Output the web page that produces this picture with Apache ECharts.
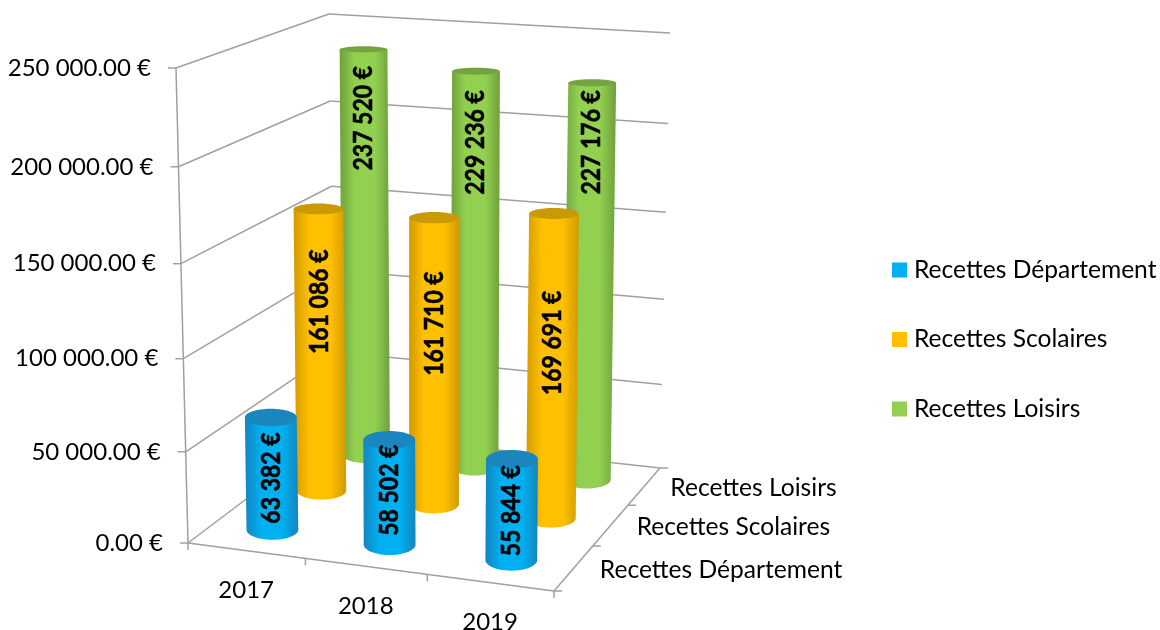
<!DOCTYPE html>
<html><head><meta charset="utf-8">
<script src="https://cdn.jsdelivr.net/npm/echarts@6/dist/echarts.min.js"></script>
<style>html,body{margin:0;padding:0;background:#fff}#c{width:1160px;height:630px}</style>
</head><body><div id="c"></div>
<script>
// ---- data ----
const years = ['2017', '2018', '2019'];
const seriesNames = ['Recettes Département', 'Recettes Scolaires', 'Recettes Loisirs'];
const recettesDepartement = [63382, 58502, 55844];
const recettesScolaires = [161086, 161710, 169691];
const recettesLoisirs = [237520, 229236, 227176];
const valueTicks = [0, 50000, 100000, 150000, 200000, 250000];
const valueTickLabels = ['0.00 €', '50 000.00 €', '100 000.00 €', '150 000.00 €', '200 000.00 €', '250 000.00 €'];

// ---- layout / style ----
const FONT = 'Lato, "Noto Sans", sans-serif';
const floorQuad = [[188,543],[554,591],[660,468],[335,432]];
const topQuad   = [[176,68],[560,101],[670,33],[329,14]];
const labelAlong = [[.46,.52,.49],[.67,.63,.575],[.83,.82,.85]];
const looks = [
  {base:'#00b0f0', edge:'#1584be', cap:'#1a86bd'},
  {base:'#ffc000', edge:'#d29a00', cap:'#c99a06'},
  {base:'#92d050', edge:'#6ea03c', cap:'#74a43f'}
];

function quadMap(q){
  const [p0,p1,p2,p3]=q;
  const dx1=p1[0]-p2[0],dx2=p3[0]-p2[0],sx=p0[0]-p1[0]+p2[0]-p3[0];
  const dy1=p1[1]-p2[1],dy2=p3[1]-p2[1],sy=p0[1]-p1[1]+p2[1]-p3[1];
  const den=dx1*dy2-dx2*dy1;
  const g=(sx*dy2-dx2*sy)/den,h=(dx1*sy-sx*dy1)/den;
  const a=p1[0]-p0[0]+g*p1[0],b=p3[0]-p0[0]+h*p3[0];
  const d=p1[1]-p0[1]+g*p1[1],e=p3[1]-p0[1]+h*p3[1];
  return (u,w)=>{const k=1+g*u+h*w;return [(a*u+b*w+p0[0])/k,(d*u+e*w+p0[1])/k];};
}
const floorAt=quadMap(floorQuad), topAt=quadMap(topQuad);
function project(u,w,v){
  const f=floorAt(u,w),t=topAt(u,w);
  const s=v*(1-0.05*(1-v));
  return [f[0]+(t[0]-f[0])*s,f[1]+(t[1]-f[1])*s];
}
function euro(n){return String(n).replace(/\B(?=(\d{3})+$)/g,' ')+' €';}

function line(a,b){
  return {type:'line',shape:{x1:a[0],y1:a[1],x2:b[0],y2:b[1]},
    style:{stroke:'#a0a0a0',lineWidth:1.5}};
}
function label(x,y,text,align,size,weight){
  return {type:'text',x:x,y:y,style:{text:text,fill:'#000',align:align,verticalAlign:'middle',
    font:(weight||'normal')+' '+size+'px '+FONT}};
}

function renderFrame(params,api){
  const cs=params.coordSys, kids=[];
  const vOf=val=>(cs.y+cs.height-api.coord([0,val])[1])/cs.height;
  valueTicks.forEach((val,i)=>{
    const v=vOf(val);
    const a=project(0,0,v),b=project(0,1,v),c=project(1,1,v);
    kids.push(line(a,b),line(b,c),line([a[0]-8,a[1]],a));
    kids.push(label(a[0]-25,a[1],valueTickLabels[i],'right',24));
  });
  kids.push(line(project(0,0,0),project(0,0,1)));
  const A=project(0,0,0),B=project(1,0,0);
  kids.push(line(A,B),line(B,project(1,1,0)));
  [0,1,2,3].forEach(i=>{
    const p=project(i/3,0,0);kids.push(line(p,[p[0],p[1]+7]));
    const q=project(1,i/3,0);kids.push(line(q,[q[0]+8,q[1]]));
  });
  years.forEach((y,i)=>{
    const p=project((i+.5)/3,0,0);
    kids.push(label(p[0],p[1]+39.5,y,'center',24));
  });
  seriesNames.forEach((n,i)=>{
    const p=project(1,(i+.5)/3,0);
    kids.push(label(p[0]+26,p[1]+2,n,'left',24.6));
  });
  return {type:'group',children:kids};
}

function cylinderRenderer(sIdx){
  return function(params,api){
    const cs=params.coordSys, i=params.dataIndex, val=api.value(1);
    const pt=api.coord([api.value(0),val]);
    const u=(pt[0]-cs.x)/cs.width, v=(cs.y+cs.height-pt[1])/cs.height, w=(sIdx+.5)/3;
    const b=project(u,w,0), raw=project(u,w,v);
    const lean=(b[0]-434)*9e-5;
    const along=f=>{const y=b[1]+(raw[1]+2-b[1])*f;return [b[0]+(b[1]-y)*lean,y];};
    const t=along(1);
    const rx=26.4-3*w;
    const tilt=y=>0.13+(y-46)/490*0.27;
    const ryB=rx*tilt(b[1]), ryT=rx*tilt(t[1]);
    const poly=[[t[0]-rx,t[1]],[t[0]+rx,t[1]]];
    for(let k=0;k<=24;k++){
      const an=Math.PI*k/24;
      poly.push([b[0]+rx*Math.cos(an),b[1]+ryB*Math.sin(an)]);
    }
    const L=looks[sIdx];
    const bodyFill=new echarts.graphic.LinearGradient(0,0,1,0,[
      {offset:0,color:L.edge},{offset:.3,color:L.base},{offset:.7,color:L.base},{offset:1,color:L.edge}]);
    const lab=along(labelAlong[sIdx][i]);
    return {type:'group',children:[
      {type:'polygon',shape:{points:poly},style:{fill:bodyFill}},
      {type:'ellipse',shape:{cx:t[0],cy:t[1],rx:rx,ry:ryT},style:{fill:L.cap}},
      {type:'text',x:lab[0],y:lab[1],rotation:Math.PI/2,scaleY:1.14,style:{text:euro(val),fill:'#000',
        stroke:'#000',lineWidth:0.5,align:'center',verticalAlign:'middle',font:'bold 23px '+FONT}}
    ]};
  };
}
const encode={x:0,y:1};
const rows=arr=>arr.map((val,i)=>[years[i],val]);

const chart=echarts.init(document.getElementById('c'));
chart.setOption({
  animation:false,
  backgroundColor:'#fff',
  grid:{left:176,top:14,width:494,height:577},
  xAxis:{type:'category',data:years,show:false},
  yAxis:{type:'value',min:0,max:250000,interval:50000,show:false},
  legend:{orient:'vertical',left:892,top:257.5,padding:0,itemWidth:15,itemHeight:15,itemGap:44.5,icon:'rect',
    data:seriesNames,selectedMode:false,textStyle:{fontFamily:FONT,fontSize:24.6,lineHeight:24,color:'#000',padding:[0,0,0,2]}},
  series:[
    {type:'custom',name:'frame',z:1,silent:true,data:[[years[0],0]],encode,renderItem:renderFrame},
    {type:'custom',name:seriesNames[2],z:3,silent:true,itemStyle:{color:looks[2].base},data:rows(recettesLoisirs),encode,renderItem:cylinderRenderer(2)},
    {type:'custom',name:seriesNames[1],z:4,silent:true,itemStyle:{color:looks[1].base},data:rows(recettesScolaires),encode,renderItem:cylinderRenderer(1)},
    {type:'custom',name:seriesNames[0],z:5,silent:true,itemStyle:{color:looks[0].base},data:rows(recettesDepartement),encode,renderItem:cylinderRenderer(0)}
  ]
});
</script></body></html>
